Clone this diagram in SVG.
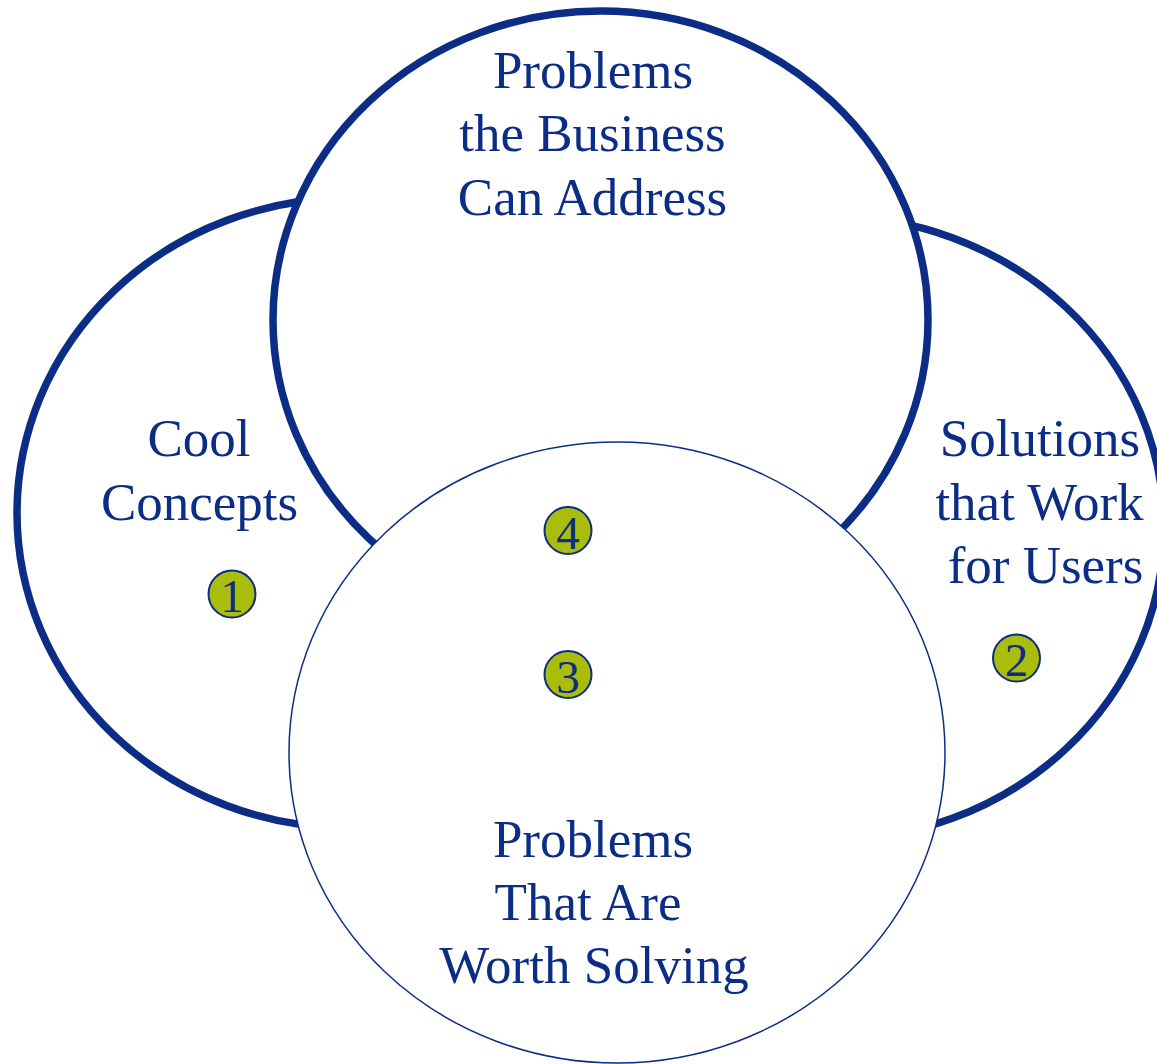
<svg xmlns="http://www.w3.org/2000/svg" width="1157" height="1064" viewBox="0 0 1157 1064">
  <style>
    .ring { fill: #ffffff; stroke: #0b2d85; stroke-width: 7.5; }
    .ring-thin { fill: #ffffff; stroke: #0b2d85; stroke-width: 1.5; }
    .label { font-family: "Liberation Serif", "Times New Roman", serif; font-size: 53px; fill: #0b2d85; text-anchor: middle; }
    .badge circle { fill: #aabd0c; stroke: #0b2d85; stroke-width: 2; }
    .badge text { font-family: "Liberation Serif", "Times New Roman", serif; font-size: 47px; fill: #0b2d85; text-anchor: middle; }
  </style>
  <rect width="1157" height="1064" fill="#ffffff"/>

  <!-- Left set: Cool Concepts -->
  <g id="cool-concepts">
    <ellipse class="ring" cx="350" cy="513" rx="333" ry="315"/>
  </g>

  <!-- Right set: Solutions that Work for Users (runs off the right edge) -->
  <g id="solutions-for-users">
    <ellipse class="ring" cx="830" cy="528" rx="334" ry="312"/>
  </g>

  <!-- Top set: Problems the Business Can Address -->
  <g id="business-problems">
    <ellipse class="ring" cx="600.5" cy="320" rx="327.5" ry="309"/>
  </g>

  <!-- Bottom set: Problems That Are Worth Solving -->
  <g id="worth-solving">
    <ellipse class="ring-thin" cx="617" cy="752.5" rx="328" ry="310.5"/>
  </g>

  <!-- Set labels -->
  <g id="labels">
    <text class="label" x="593" y="88">Problems</text>
    <text class="label" x="592.5" y="151">the Business</text>
    <text class="label" x="592.5" y="215">Can Address</text>

    <text class="label" x="199" y="456">Cool</text>
    <text class="label" x="199.5" y="520">Concepts</text>

    <text class="label" x="1040" y="456">Solutions</text>
    <text class="label" x="1039.5" y="520">that Work</text>
    <text class="label" x="1045.5" y="583">for Users</text>

    <text class="label" x="593" y="857">Problems</text>
    <text class="label" x="588" y="920">That Are</text>
    <text class="label" x="594" y="983">Worth Solving</text>
  </g>

  <!-- Numbered region markers -->
  <g id="badge-1" class="badge">
    <circle cx="232" cy="594" r="23.5"/>
    <text x="232" y="612">1</text>
  </g>
  <g id="badge-2" class="badge">
    <circle cx="1016.5" cy="658" r="23.5"/>
    <text x="1016.5" y="676">2</text>
  </g>
  <g id="badge-3" class="badge">
    <circle cx="568" cy="674.5" r="23.5"/>
    <text x="568" y="692.5">3</text>
  </g>
  <g id="badge-4" class="badge">
    <circle cx="568" cy="530.5" r="23.5"/>
    <text x="568" y="548.5">4</text>
  </g>

  <!-- No connectors in this diagram -->
  <g id="connectors"/>
</svg>
